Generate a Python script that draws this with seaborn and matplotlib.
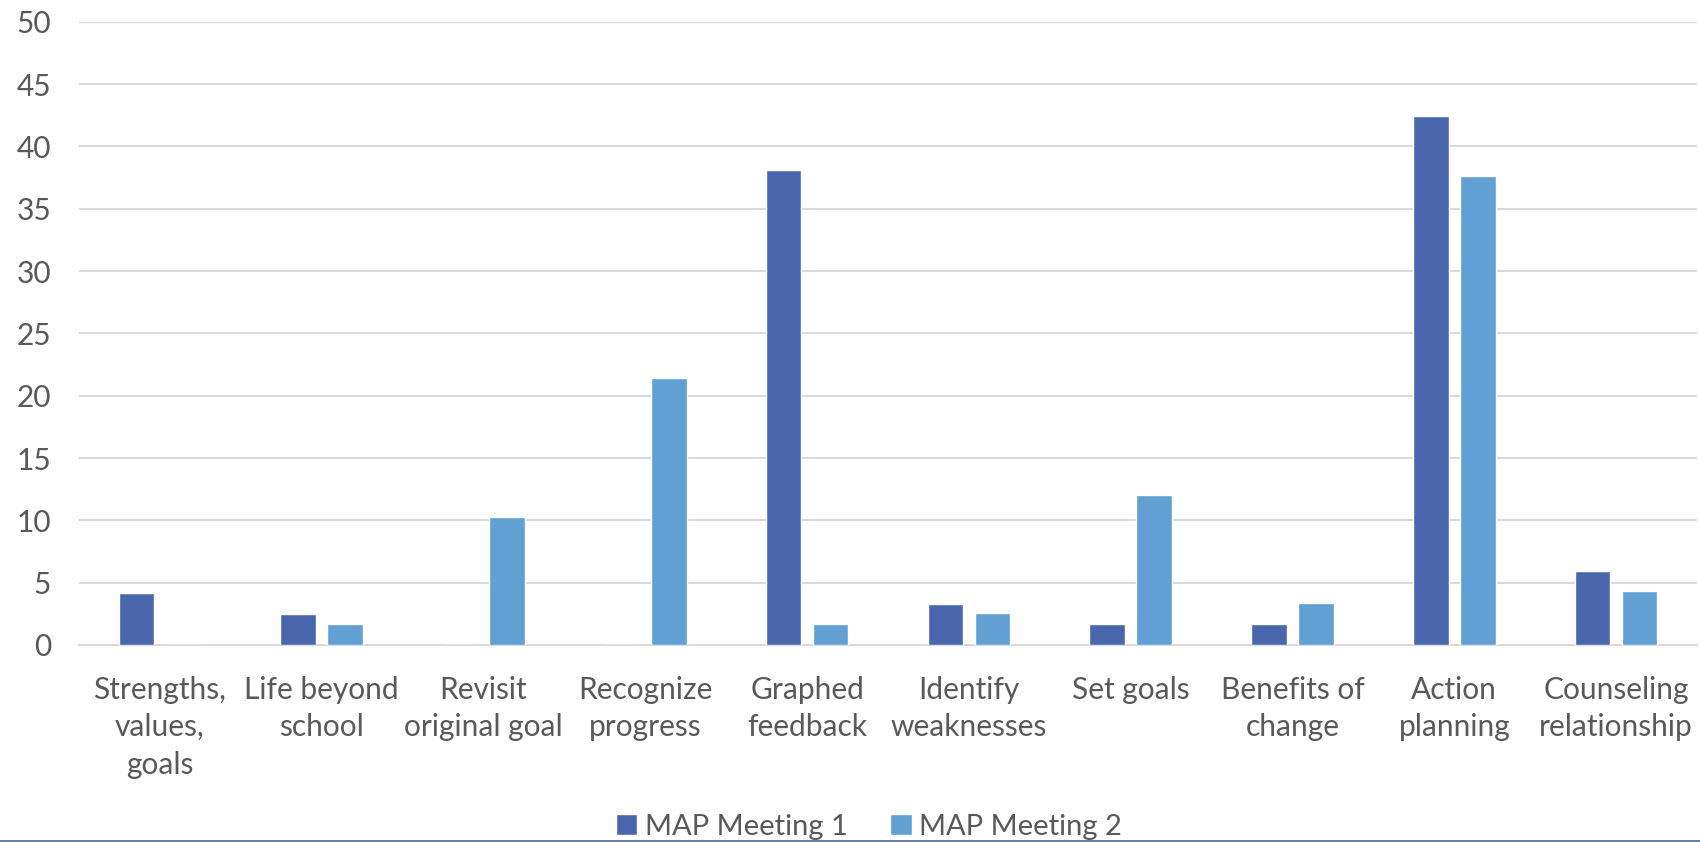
import matplotlib
matplotlib.use("Agg")
import matplotlib.pyplot as plt
import seaborn as sns
import pandas as pd
from matplotlib.lines import Line2D

categories = ["Strengths,\nvalues,\ngoals", "Life beyond\nschool", "Revisit\noriginal goal",
              "Recognize\nprogress", "Graphed\nfeedback", "Identify\nweaknesses", "Set goals",
              "Benefits of\nchange", "Action\nplanning", "Counseling\nrelationship"]
meeting1 = [4.2, 2.5, 0, 0, 38.1, 3.3, 1.7, 1.7, 42.4, 5.9]
meeting2 = [0, 1.7, 10.3, 21.4, 1.7, 2.6, 12.0, 3.4, 37.6, 4.3]
series_names = ["MAP Meeting 1", "MAP Meeting 2"]
yticks = [0, 5, 10, 15, 20, 25, 30, 35, 40, 45, 50]

df = pd.DataFrame({
    "category": categories * 2,
    "value": meeting1 + meeting2,
    "series": [series_names[0]] * len(categories) + [series_names[1]] * len(categories),
})

sns.set_theme(style="white")
plt.rcParams['font.family'] = ['Lato', 'DejaVu Sans']

fig = plt.figure(figsize=(17, 8.42), dpi=100)
ax = fig.add_axes([79 / 1700, 197 / 842, (1697 - 79) / 1700, (645 - 21.7) / 842])

palette = {series_names[0]: "#4A67AE", series_names[1]: "#629FD2"}
sns.barplot(data=df, x="category", y="value", hue="series", palette=palette,
            width=0.58, gap=0.24, order=categories, hue_order=series_names,
            saturation=1, ax=ax, legend=True, zorder=3)

ax.set_ylim(0, 50)
ax.set_xlim(-0.5, len(categories) - 0.5)
ax.set_yticks(yticks)
ax.set_yticklabels([str(t) for t in yticks])
ax.yaxis.grid(True, color="#D9D9D9", linewidth=1.5, zorder=0)
ax.set_axisbelow(True)
for s in ["top", "right", "left"]:
    ax.spines[s].set_visible(False)
ax.spines["bottom"].set_color("#D9D9D9")
ax.spines["bottom"].set_linewidth(1.5)
ax.tick_params(axis="both", length=0, labelsize=21.5, colors="#595959")
ax.tick_params(axis="y", pad=20)
ax.tick_params(axis="x", pad=22)
for lab in ax.get_xticklabels():
    lab.set_linespacing(1.42)
ax.set_xlabel("")
ax.set_ylabel("")

handles, labels = ax.get_legend_handles_labels()
ax.get_legend().remove()
fig.legend(handles, labels, loc="center", bbox_to_anchor=(0.511, 0.018), ncol=2,
           frameon=False, fontsize=21, labelcolor="#595959", handlelength=0.75,
           handleheight=0.72, handletextpad=0.25, columnspacing=1.45,
           borderpad=0, borderaxespad=0)

fig.add_artist(Line2D([0, 1], [0.6 / 842, 0.6 / 842], transform=fig.transFigure,
                      color="#4A6A9C", linewidth=1.2))

fig.savefig("out.png", dpi=100)
